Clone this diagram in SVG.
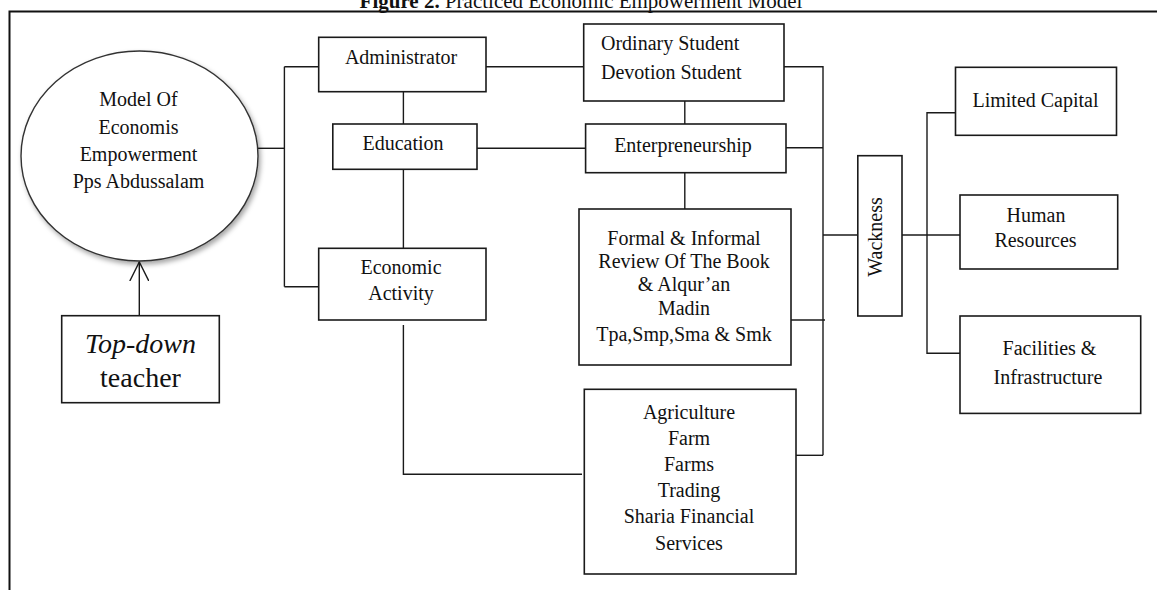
<svg xmlns="http://www.w3.org/2000/svg" width="1157" height="590" viewBox="0 0 1157 590">
<style>
.box{fill:#fff;stroke:#1a1a1a;stroke-width:1.6}
.ln{fill:none;stroke:#1a1a1a;stroke-width:1.4}
.t{font-family:"Liberation Serif","Times New Roman",serif;font-size:20px;fill:#111;text-anchor:middle}
.tl{text-anchor:start}
.big{font-size:28px}
.frame{fill:none;stroke:#111;stroke-width:2}
</style>
<defs>
<filter id="sh" x="-20%" y="-20%" width="140%" height="140%">
<feDropShadow dx="2" dy="3" stdDeviation="2.5" flood-color="#000" flood-opacity="0.35"/>
</filter>
<marker id="open" viewBox="0 0 20 20" refX="19" refY="10" markerWidth="20" markerHeight="20" markerUnits="userSpaceOnUse" orient="auto">
<path d="M0,0.5 L19,10 L0,19.5" fill="none" stroke="#1a1a1a" stroke-width="1.4"/>
</marker>
</defs>
<rect width="1157" height="590" fill="#fff"/>
<text x="581" y="7.5" font-family="'Liberation Serif','Times New Roman',serif" font-size="21" fill="#111" text-anchor="middle"><tspan font-weight="bold">Figure 2.</tspan> Practiced Economic Empowerment Model</text>
<path class="frame" d="M9.5,590 V11.5 H1157"/>
<g id="connectors">
<path class="ln" d="M257.6,148.3 H284.4"/>
<path class="ln" d="M284.4,66.7 V286.7"/>
<path class="ln" d="M284.4,66.7 H318.7"/>
<path class="ln" d="M284.4,286.7 H318.7"/>
<path class="ln" d="M403.4,91.7 V124"/>
<path class="ln" d="M403.4,169.3 V248.3"/>
<path class="ln" d="M403.4,325 V474.3 H582"/>
<path class="ln" d="M486,66.7 H583.7"/>
<path class="ln" d="M477,148.3 H585.6"/>
<path class="ln" d="M684.8,101 V124"/>
<path class="ln" d="M684.8,172.7 V209"/>
<path class="ln" d="M784,66.7 H823 V455.3"/>
<path class="ln" d="M784,147.7 H823"/>
<path class="ln" d="M791,320 H825"/>
<path class="ln" d="M793,455.3 H823"/>
<path class="ln" d="M823,235 H857.8"/>
<path class="ln" d="M899.7,235 H960"/>
<path class="ln" d="M955.5,112.7 H927 V353.3 H960"/>
<path class="ln" d="M139.3,315.7 V262" marker-end="url(#open)"/>
</g>
<g id="model">
<ellipse cx="139.5" cy="156" rx="118.5" ry="105" fill="#fff" stroke="#333" stroke-width="1.4" filter="url(#sh)"/>
<text class="t" x="138.5" y="106">Model Of</text>
<text class="t" x="138.5" y="133.5">Economis</text>
<text class="t" x="138.5" y="161">Empowerment</text>
<text class="t" x="138.5" y="187.5">Pps Abdussalam</text>
</g>
<g id="topdown">
<rect class="box" x="61.7" y="315.7" width="157.6" height="87"/>
<text class="t big" x="140.5" y="352.7" font-style="italic">Top-down</text>
<text class="t big" x="140.5" y="386.5">teacher</text>
</g>
<g id="administrator">
<rect class="box" x="318.7" y="37.3" width="167.3" height="54.4"/>
<text class="t" x="401" y="63.5">Administrator</text>
</g>
<g id="education">
<rect class="box" x="332.8" y="124" width="144.2" height="45.3"/>
<text class="t" x="403" y="150">Education</text>
</g>
<g id="economic">
<rect class="box" x="318.7" y="248.3" width="167.3" height="71.7"/>
<text class="t" x="401" y="274">Economic</text>
<text class="t" x="401" y="300">Activity</text>
</g>
<g id="students">
<rect class="box" x="583.7" y="24" width="200.3" height="77"/>
<text class="t tl" x="601" y="50">Ordinary Student</text>
<text class="t tl" x="601" y="79.3">Devotion Student</text>
</g>
<g id="enterpreneurship">
<rect class="box" x="585.6" y="124" width="200.4" height="48.7"/>
<text class="t" x="683" y="151.7">Enterpreneurship</text>
</g>
<g id="formal">
<rect class="box" x="579" y="209" width="212" height="156"/>
<text class="t" x="684" y="245">Formal &amp; Informal</text>
<text class="t" x="684" y="268.3">Review Of The Book</text>
<text class="t" x="684" y="290.7">&amp; Alqur’an</text>
<text class="t" x="684" y="315">Madin</text>
<text class="t" x="684" y="340.7">Tpa,Smp,Sma &amp; Smk</text>
</g>
<g id="agriculture">
<rect class="box" x="584.3" y="389.3" width="211.7" height="184.7"/>
<text class="t" x="689" y="419">Agriculture</text>
<text class="t" x="689" y="445">Farm</text>
<text class="t" x="689" y="470.7">Farms</text>
<text class="t" x="689" y="497.3">Trading</text>
<text class="t" x="689" y="523.3">Sharia Financial</text>
<text class="t" x="689" y="550">Services</text>
</g>
<g id="wackness">
<rect class="box" x="857.8" y="155.7" width="44.2" height="160.3"/>
<text class="t" transform="translate(881.5,237) rotate(-90)" x="0" y="0">Wackness</text>
</g>
<g id="limited">
<rect class="box" x="955.5" y="67.3" width="161" height="68"/>
<text class="t" x="1035.5" y="107.3">Limited Capital</text>
</g>
<g id="human">
<rect class="box" x="960" y="195" width="157.7" height="74"/>
<text class="t" x="1036" y="221.7">Human</text>
<text class="t" x="1035.5" y="247.3">Resources</text>
</g>
<g id="facilities">
<rect class="box" x="960" y="316" width="180.7" height="97.4"/>
<text class="t" x="1049.5" y="355">Facilities &amp;</text>
<text class="t" x="1048" y="384">Infrastructure</text>
</g>
</svg>
